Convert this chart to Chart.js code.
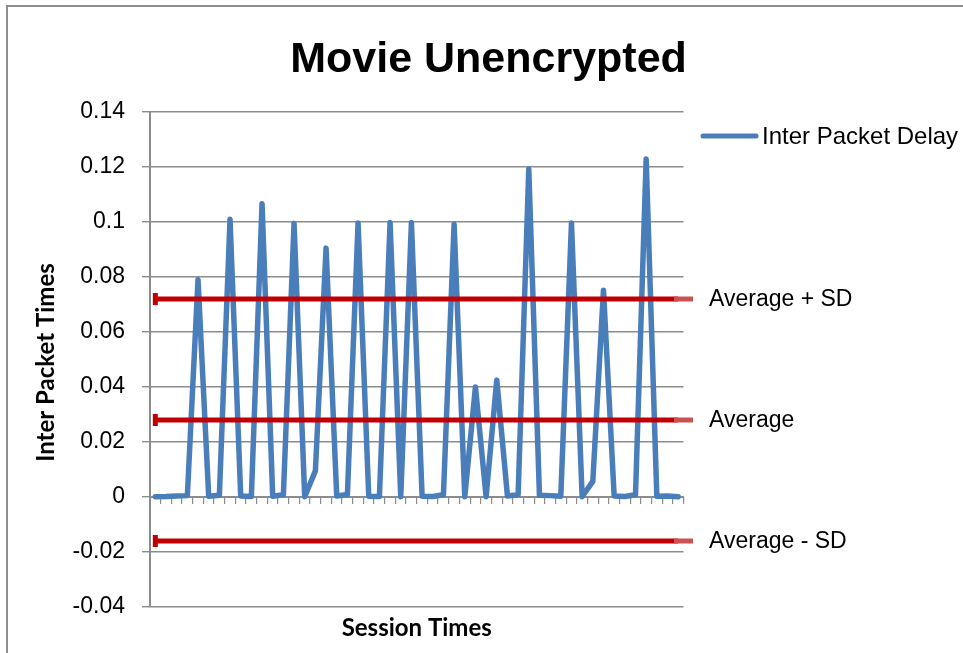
<!DOCTYPE html>
<html>
<head>
<meta charset="utf-8">
<title>Movie Unencrypted</title>
<script src="https://cdn.jsdelivr.net/npm/chart.js@4/dist/chart.umd.min.js"></script>
<style>
  html, body { margin: 0; padding: 0; background: #ffffff; }
  #wrap { position: relative; width: 963px; height: 653px; overflow: hidden; }
  #frame {
    position: absolute; left: 6px; top: 5px; right: -4px; bottom: -4px;
    border-left: 2px solid #8e8e8e; border-top: 2px solid #8e8e8e;
    pointer-events: none; z-index: 2;
  }
  canvas { position: absolute; left: 0; top: 0; }
</style>
</head>
<body>
<div id="wrap">
  <canvas id="chart" width="963" height="653"></canvas>
  <div id="frame"></div>
</div>
<script>
// Session index (category axis, labels not shown)
const sessionLabels = [
  1, 2, 3, 4, 5, 6, 7, 8, 9, 10,
  11, 12, 13, 14, 15, 16, 17, 18, 19, 20,
  21, 22, 23, 24, 25, 26, 27, 28, 29, 30,
  31, 32, 33, 34, 35, 36, 37, 38, 39, 40,
  41, 42, 43, 44, 45, 46, 47, 48, 49, 50
];

// Inter packet delay per session (seconds)
const packetDelay = [
  0.0001, 0.0002, 0.0004, 0.0005, 0.0790, 0.0003, 0.0006, 0.1010, 0.0004, 0.0002,
  0.1066, 0.0003, 0.0008, 0.0995, 0.0001, 0.0095, 0.0905, 0.0004, 0.0009, 0.0996,
  0.0003, 0.0002, 0.0998, 0.0001, 0.0998, 0.0003, 0.0002, 0.0008, 0.0992, 0.0001,
  0.0400, 0.0001, 0.0425, 0.0004, 0.0008, 0.1193, 0.0006, 0.0005, 0.0003, 0.0996,
  0.0001, 0.0057, 0.0752, 0.0004, 0.0002, 0.0008, 0.1229, 0.0003, 0.0004, 0.0001
];

// Reference levels: mean plus/minus one standard deviation
const refNames  = ['Average + SD', 'Average', 'Average - SD'];
const refLevels = [0.072, 0.028, -0.016];

// Value axis tick labels, bottom to top
const yTickLabels = ['-0.04', '-0.02', '0', '0.02', '0.04', '0.06', '0.08', '0.1', '0.12', '0.14'];

const chartTitle = 'Movie Unencrypted';
const xTitle = 'Session Times';
const yTitle = 'Inter Packet Times';
const seriesName = 'Inter Packet Delay';

const BLUE = '#4a7ebb';
const RED = '#c00000';
const RED_KEY = '#cc5252';
const GRID = '#8c8c8c';
const LABEL_FONT = '"Liberation Sans", Arial, sans-serif';
const TITLE_FONT = 'Lato, "Open Sans", sans-serif';

const firstLabel = sessionLabels[0];
const lastLabel = sessionLabels[sessionLabels.length - 1];

const refDatasets = refLevels.map((level, i) => ({
  label: refNames[i],
  data: [{ x: firstLabel, y: level }, { x: lastLabel, y: level }],
  borderColor: RED,
  backgroundColor: RED,
  borderWidth: 5,
  borderCapStyle: 'butt',
  pointStyle: 'line',
  rotation: 90,
  pointRadius: [6, 0],
  pointBorderWidth: 5,
  pointBorderColor: RED,
  order: 0
}));

// Draws title, axis titles and the side legend
const textPlugin = {
  id: 'chartText',
  afterDraw(chart) {
    const ctx = chart.ctx;
    const ca = chart.chartArea;
    const y = chart.scales.y;
    ctx.save();
    ctx.fillStyle = '#000';

    // Chart title
    ctx.font = 'bold 43px ' + LABEL_FONT;
    ctx.textAlign = 'center';
    ctx.textBaseline = 'alphabetic';
    ctx.fillText(chartTitle, chart.width / 2 + 7, 72);

    // Axis titles
    ctx.font = 'bold 24px ' + TITLE_FONT;
    ctx.textBaseline = 'middle';
    ctx.fillText(xTitle, (ca.left + ca.right) / 2, 628);
    ctx.save();
    ctx.translate(46, (ca.top + ca.bottom) / 2 + 3);
    ctx.rotate(-Math.PI / 2);
    ctx.fillText(yTitle, 0, 0);
    ctx.restore();

    // Series legend entry
    ctx.lineCap = 'round';
    ctx.lineWidth = 5;
    ctx.strokeStyle = BLUE;
    ctx.beginPath();
    ctx.moveTo(703, 136);
    ctx.lineTo(756, 136);
    ctx.stroke();
    ctx.font = '24px ' + LABEL_FONT;
    ctx.textAlign = 'left';
    ctx.fillText(seriesName, 762, 137);

    // Reference line legend entries, aligned with each line
    ctx.lineCap = 'butt';
    ctx.strokeStyle = RED_KEY;
    ctx.font = '23px ' + LABEL_FONT;
    refLevels.forEach((level, i) => {
      const py = y.getPixelForValue(level);
      ctx.beginPath();
      ctx.moveTo(674, py);
      ctx.lineTo(693, py);
      ctx.stroke();
      ctx.fillText(refNames[i], 709, py + 1);
    });
    ctx.restore();
  }
};

new Chart(document.getElementById('chart'), {
  type: 'line',
  data: {
    labels: sessionLabels,
    datasets: [
      {
        label: seriesName,
        data: packetDelay,
        borderColor: BLUE,
        backgroundColor: BLUE,
        borderWidth: 5.5,
        borderJoinStyle: 'round',
        borderCapStyle: 'round',
        pointRadius: 0,
        tension: 0,
        order: 1
      },
      ...refDatasets
    ]
  },
  options: {
    responsive: false,
    animation: false,
    devicePixelRatio: 1,
    layout: { padding: { left: 0, top: 112, right: 279.5, bottom: 46 } },
    plugins: {
      legend: { display: false },
      title: { display: false },
      tooltip: { enabled: false }
    },
    scales: {
      x: {
        type: 'category',
        position: { y: 0 },
        offset: true,
        ticks: { display: false },
        grid: {
          display: true,
          offset: true,
          drawOnChartArea: false,
          drawTicks: true,
          tickLength: 6,
          color: GRID,
          lineWidth: 1.2
        },
        border: { display: true, color: GRID, width: 2 },
        afterFit(scale) { scale.height = 0; }
      },
      y: {
        type: 'linear',
        position: 'left',
        min: -0.04,
        max: 0.14,
        ticks: {
          stepSize: 0.02,
          padding: 17,
          color: '#000',
          font: { family: LABEL_FONT, size: 23 },
          callback: (value, index) => yTickLabels[index]
        },
        grid: {
          color: GRID,
          lineWidth: 1.4,
          drawTicks: true,
          tickLength: 8
        },
        border: { display: true, color: GRID, width: 2 },
        afterFit(scale) { scale.width = 150; }
      }
    }
  },
  plugins: [textPlugin]
});
</script>
</body>
</html>
